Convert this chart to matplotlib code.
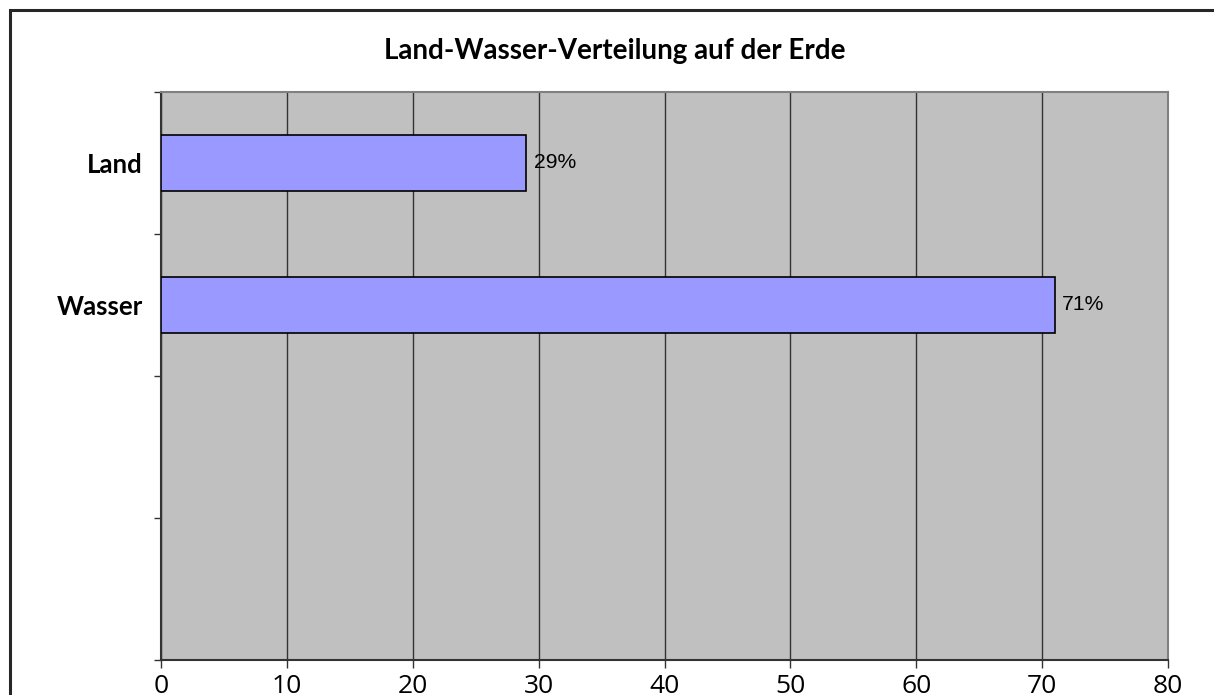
import matplotlib
matplotlib.use("Agg")
import matplotlib.pyplot as plt
from matplotlib.patches import Rectangle

title = "Land-Wasser-Verteilung auf der Erde"
categories = ["Land", "Wasser", "", ""]
values = [29, 71]
value_labels = ["29%", "71%"]
x_ticks = [0, 10, 20, 30, 40, 50, 60, 70, 80]

W, H = 1214, 695
fig = plt.figure(figsize=(W / 100, H / 100), dpi=100)
fig.patch.set_facecolor("white")

# outer frame (cropped at right and bottom)
fig.patches.append(Rectangle((10 / W, -0.1), 1.2, 1 - 10 / H + 0.1, transform=fig.transFigure,
                             fill=False, edgecolor="#262626", linewidth=2.2, zorder=0))

left, right, top, bottom = 161, 1168, 92, 660
ax = fig.add_axes([left / W, 1 - bottom / H, (right - left) / W, (bottom - top) / H])
ax.set_facecolor("#C0C0C0")

ypos = list(range(len(values)))
ax.barh(ypos, values, height=0.394, color="#9999FF", edgecolor="black", linewidth=1.2, zorder=3)
for y, v, lab in zip(ypos, values, value_labels):
    ax.text(v + 0.6, y, lab, va="center", ha="left", fontsize=15.2,
            family="Liberation Sans", color="black", zorder=4)

ax.set_xlim(0, 80)
ax.set_ylim(len(categories) - 0.5, -0.5)
ax.set_xticks(x_ticks)
ax.set_xticklabels([str(t) for t in x_ticks], fontsize=19, family="Open Sans")
ax.tick_params(axis="x", length=6, width=1, color="#333333", pad=4)

ax.set_yticks([i - 0.5 for i in range(len(categories) + 1)])
ax.set_yticklabels([])
ax.set_yticks(range(len(categories)), minor=True)
ax.set_yticklabels(categories, minor=True, fontsize=18.5, fontweight="bold", family="Lato")
ax.tick_params(axis="y", which="major", length=5, width=1, color="#333333")
ax.tick_params(axis="y", which="minor", length=0, pad=13)

ax.grid(axis="x", color="#333333", linewidth=1.0, zorder=1)
ax.set_axisbelow(True)
for s in ["top", "right"]:
    ax.spines[s].set_color("#808080")
    ax.spines[s].set_linewidth(1.5)
for s in ["left", "bottom"]:
    ax.spines[s].set_color("#333333")
    ax.spines[s].set_linewidth(1.5)

fig.text(615 / W, 1 - 51 / H, title, ha="center", va="center",
         fontsize=20, fontweight="bold", family="Lato")

fig.savefig("out.png", dpi=100)
